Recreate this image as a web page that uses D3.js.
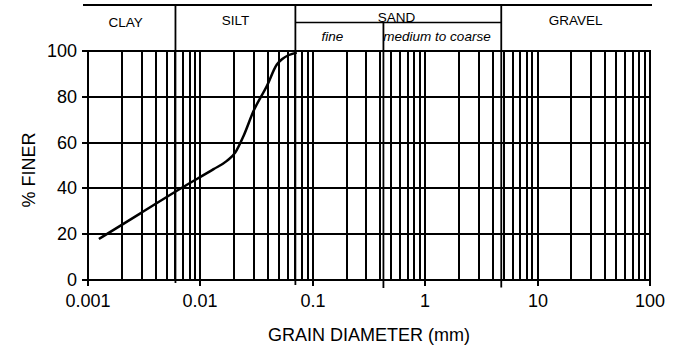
<!DOCTYPE html>
<html>
<head>
<meta charset="utf-8">
<script src="https://cdn.jsdelivr.net/npm/d3@7"></script>
<style>
  html, body { margin: 0; padding: 0; background: #fff; }
  svg { display: block; font-family: "Liberation Sans", Arial, sans-serif; }
</style>
</head>
<body>
<svg id="chart" width="674" height="348"></svg>
<script>
// ---- data ----
const grainDiameter = [0.00125, 0.0029, 0.0069, 0.0131, 0.0172, 0.0204, 0.0242, 0.0297, 0.039, 0.0479, 0.0535, 0.072];
const percentFiner  = [17.9, 29, 40.4, 48.4, 52, 55.6, 62.9, 73.8, 84.7, 94.1, 96.5, 99.3];
const xTickValues = [0.001, 0.01, 0.1, 1, 10, 100];
const xTickLabels = ["0.001", "0.01", "0.1", "1", "10", "100"];
const yTickValues = [0, 20, 40, 60, 80, 100];
const boundaries = [0.006, 0.07, 0.425, 4.75];           // clay|silt, silt|sand, fine|medium, sand|gravel
const mainClasses = [
  { name: "CLAY",   from: 0.001, to: 0.006 },
  { name: "SILT",   from: 0.006, to: 0.07 },
  { name: "SAND",   from: 0.07,  to: 4.75 },
  { name: "GRAVEL", from: 4.75,  to: 100 }
];
const sandSub = [
  { name: "fine",              from: 0.07,  to: 0.425 },
  { name: "medium to coarse",  from: 0.425, to: 4.75 }
];

(function () {
// ---- layout ----
const svg = d3.select("#chart");
const pLeft = 88, pRight = 650, pTop = 51, pBottom = 280;
const headerTop = 5, subLineY = 22.5;

const x = d3.scaleLog().domain([0.001, 100]).range([pLeft, pRight]);
const y = d3.scaleLinear().domain([0, 100]).range([pBottom, pTop]);
const rx = d => Math.round(x(d));
const ry = d => Math.round(y(d));

// grid values: 1..9 of each decade
const gridX = [];
xTickValues.slice(0, -1).forEach(d => { for (let k = 1; k <= 9; k++) gridX.push(k * d); });
gridX.push(100);

const g = svg.append("g");

g.selectAll("line.vg").data(gridX).join("line")
  .attr("class", "vg")
  .attr("x1", rx).attr("x2", rx)
  .attr("y1", ry(100) - 1).attr("y2", ry(0) + 1)
  .attr("stroke", "#000").attr("stroke-width", 2);

g.selectAll("line.hg").data(yTickValues).join("line")
  .attr("class", "hg")
  .attr("x1", rx(0.001)).attr("x2", rx(100) + 1)
  .attr("y1", ry).attr("y2", ry)
  .attr("stroke", "#000").attr("stroke-width", 2);

// header top line
svg.append("line")
  .attr("x1", pLeft - 5).attr("x2", pRight + 2)
  .attr("y1", headerTop).attr("y2", headerTop)
  .attr("stroke", "#000").attr("stroke-width", 2);

// sand sub line
svg.append("line")
  .attr("x1", x(0.07)).attr("x2", x(4.75))
  .attr("y1", subLineY).attr("y2", subLineY)
  .attr("stroke", "#000").attr("stroke-width", 1.5);

// boundary lines
const boundaryExt = [3, 5, 8, 7.5];
svg.selectAll("line.bd").data(boundaries).join("line")
  .attr("class", "bd")
  .attr("x1", d => x(d)).attr("x2", d => x(d))
  .attr("y1", (d, i) => i === 2 ? subLineY : headerTop)
  .attr("y2", (d, i) => pBottom + boundaryExt[i])
  .attr("stroke", "#000").attr("stroke-width", 1.8);

// header labels
const headerBase = [27, 25, 22, 25];
svg.selectAll("text.mc").data(mainClasses).join("text")
  .attr("class", "mc")
  .attr("x", (d, i) => i === 2 ? 396.5 : (x(d.from) + x(d.to)) / 2 - (i === 0 ? 6 : 0))
  .attr("y", (d, i) => headerBase[i])
  .attr("text-anchor", "middle")
  .attr("font-size", "13.5px")
  .text(d => d.name);

svg.selectAll("text.sc").data(sandSub).join("text")
  .attr("class", "sc")
  .attr("x", (d, i) => i === 0 ? 332.5 : 437)
  .attr("y", 41)
  .attr("text-anchor", "middle")
  .attr("font-size", "13.5px")
  .attr("font-style", "italic")
  .text(d => d.name);

// axes
const yAxis = d3.axisLeft(y).tickValues(yTickValues).tickSize(6).tickPadding(5);
const yg = svg.append("g").attr("transform", `translate(${pLeft},0)`).call(yAxis);
yg.select(".domain").remove();
yg.selectAll(".tick").attr("transform", d => `translate(0,${ry(d)})`);
yg.selectAll(".tick line").attr("stroke", "#000").attr("stroke-width", 2);
yg.selectAll(".tick text").attr("font-size", "18px").attr("font-family", "Liberation Sans, Arial, sans-serif").attr("fill", "#000");

const xAxis = d3.axisBottom(x).tickValues(xTickValues).tickSize(6).tickPadding(8)
  .tickFormat((d, i) => xTickLabels[i]);
const xg = svg.append("g").attr("transform", `translate(0,${pBottom})`).call(xAxis);
xg.select(".domain").remove();
xg.selectAll(".tick").attr("transform", d => `translate(${rx(d)},0)`);
xg.selectAll(".tick line").attr("stroke", "#000").attr("stroke-width", 2);
xg.selectAll(".tick text").attr("font-size", "18px").attr("font-family", "Liberation Sans, Arial, sans-serif").attr("fill", "#000");

// axis titles
svg.append("text")
  .attr("x", 369).attr("y", 341)
  .attr("text-anchor", "middle")
  .attr("font-size", "18px")
  .text("GRAIN DIAMETER (mm)");

svg.append("text")
  .attr("transform", "translate(35,170) rotate(-90)")
  .attr("text-anchor", "middle")
  .attr("font-size", "18px")
  .text("% FINER");

// gradation curve
const pts = grainDiameter.map((d, i) => [d, percentFiner[i]]);
const line = d3.line().x(d => x(d[0])).y(d => y(d[1])).curve(d3.curveMonotoneX);
svg.append("path")
  .datum(pts)
  .attr("d", line)
  .attr("fill", "none")
  .attr("stroke", "#000")
  .attr("stroke-width", 2.5);
})();
</script>
</body>
</html>
